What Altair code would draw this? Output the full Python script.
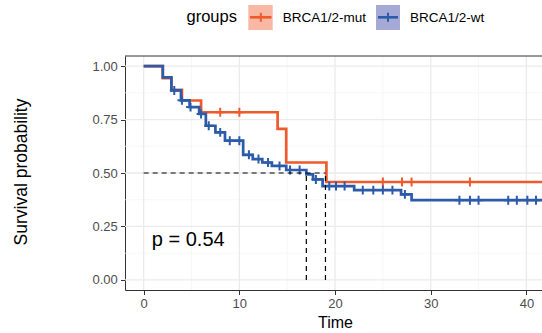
import altair as alt
import pandas as pd

# ---- data -------------------------------------------------------------
groups = ["BRCA1/2-mut", "BRCA1/2-wt"]
line_colors = ["#EE5A2C", "#2B5BA9"]
key_fills = ["#F9B8A4", "#A5A9D6"]

# Kaplan-Meier step points: time of each drop and survival after it
mut_times = [0.0, 2.0, 2.9, 4.0, 6.0, 14.0, 14.9, 19.1]
mut_surv = [1.000, 0.944, 0.889, 0.839, 0.784, 0.706, 0.549, 0.458]
mut_censor = [8.0, 10.0, 25.0, 27.0, 28.0, 34.1]

wt_times = [0.0, 2.0, 2.9, 3.9, 4.8, 5.8, 6.5, 7.5, 8.5, 10.4, 11.4, 12.4,
            13.4, 14.9, 17.0, 17.7, 18.7, 22.0, 26.9, 28.0]
wt_surv = [1.000, 0.947, 0.886, 0.840, 0.808, 0.776, 0.721, 0.690, 0.651,
           0.585, 0.565, 0.549, 0.533, 0.514, 0.494, 0.470, 0.439, 0.420,
           0.400, 0.373]
wt_censor = [3.2, 4.0, 4.9, 6.0, 6.8, 8.0, 9.0, 10.0, 11.0, 12.0, 13.0, 14.2,
             15.3, 16.3, 18.0, 19.4, 20.1, 21.0, 22.9, 24.0, 25.0, 26.0, 27.3,
             33.0, 34.1, 35.0, 38.1, 39.0, 40.1, 41.0]

last_time = 41.63
medians = [19.0, 17.0]
p_label = "p = 0.54"
p_time, p_surv = 0.85, 0.187

x_ticks = [0, 10, 20, 30, 40]
x_minor = [5, 15, 25, 35]
y_ticks = [0.0, 0.25, 0.5, 0.75, 1.0]
y_minor = [0.125, 0.375, 0.625, 0.875]

FONT = "Liberation Sans"


def level_at(times, surv, t):
    level = surv[0]
    for tt, s in zip(times, surv):
        if tt <= t:
            level = s
    return level


curve_rows, censor_rows = [], []
for g, times, surv, cens in [(groups[0], mut_times, mut_surv, mut_censor),
                             (groups[1], wt_times, wt_surv, wt_censor)]:
    for i, (t, s) in enumerate(zip(times, surv)):
        curve_rows.append({"group": g, "time": t, "surv": s, "i": i})
    curve_rows.append({"group": g, "time": last_time, "surv": surv[-1], "i": len(times)})
    for t in cens:
        censor_rows.append({"group": g, "time": t, "surv": level_at(times, surv, t)})

curves = pd.DataFrame(curve_rows)
censors = pd.DataFrame(censor_rows)

xs = alt.Scale(domain=[-1.95, last_time], nice=False, zero=False)
ys = alt.Scale(domain=[-0.047, 1.047], nice=False, zero=False)
color = alt.Scale(domain=groups, range=line_colors)

# one shared axis definition per direction, reused by every layer
x_axis = alt.Axis(values=x_ticks, title="Time", grid=False, titleX=210, titleY=37,
                  titleBaseline="alphabetic", titleAlign="center")
y_axis = alt.Axis(values=y_ticks, format=".2f", title="Survival probability", grid=False,
                  titleX=-99, titleY=115.5, titleAngle=270, titleAlign="center",
                  titleBaseline="alphabetic", labelPadding=3.2, titleFontSize=17.5)


def X(field, **kw):
    return alt.X(field, scale=xs, axis=x_axis, **kw)


def Y(field, **kw):
    return alt.Y(field, scale=ys, axis=y_axis, **kw)


# ---- grid ---------------------------------------------------------------
minor_x = alt.Chart(pd.DataFrame({"v": x_minor})).mark_rule(
    color="#F4F4F4", strokeWidth=0.7).encode(x=X("v:Q"))
minor_y = alt.Chart(pd.DataFrame({"v": y_minor})).mark_rule(
    color="#F4F4F4", strokeWidth=0.7).encode(y=Y("v:Q"))
major_x = alt.Chart(pd.DataFrame({"v": x_ticks})).mark_rule(
    color="#EBEBEB", strokeWidth=1.3).encode(x=X("v:Q"))
major_y = alt.Chart(pd.DataFrame({"v": y_ticks})).mark_rule(
    color="#EBEBEB", strokeWidth=1.3).encode(y=Y("v:Q"))

# ---- survival curves ---------------------------------------------------
lines = alt.Chart(curves).mark_line(interpolate="step-after", strokeWidth=2.7, clip=True).encode(
    x=X("time:Q"),
    y=Y("surv:Q"),
    color=alt.Color("group:N", scale=color, legend=None),
    order=alt.Order("i:Q"),
    detail="group:N",
)

plus_path = "M-1,0L1,0M0,-1L0,1"
ticks = alt.Chart(censors).mark_point(shape=plus_path, filled=False, size=80,
                                      strokeWidth=2, opacity=1).encode(
    x=X("time:Q"),
    y=Y("surv:Q"),
    color=alt.Color("group:N", scale=color, legend=None),
)

# ---- median survival guides ---------------------------------------------
med_h = alt.Chart(pd.DataFrame({"x0": [0.0], "x1": [max(medians)], "y": [0.5]})).mark_rule(
    color="black", strokeDash=[5, 4], strokeWidth=1.2).encode(
    x=X("x0:Q"), x2="x1:Q", y=Y("y:Q"))
med_v = alt.Chart(pd.DataFrame({"x": medians, "y0": [0.0, 0.0], "y1": [0.5, 0.5]})).mark_rule(
    color="black", strokeDash=[5, 4], strokeWidth=1.2).encode(
    x=X("x:Q"), y=Y("y0:Q"), y2="y1:Q")

pval = alt.Chart(pd.DataFrame({"t": [p_time], "s": [p_surv], "label": [p_label]})).mark_text(
    align="left", baseline="middle", fontSize=20, font=FONT, color="black").encode(
    x=X("t:Q"), y=Y("s:Q"), text="label:N")

# panel top border
top_border = alt.Chart(pd.DataFrame({"a": [0]})).mark_rule(color="#333333", strokeWidth=1).encode(
    y=alt.value(0), x=alt.value(0), x2=alt.value(417))

# ---- legend (top) -------------------------------------------------------
key = pd.DataFrame({
    "group": groups,
    "bx0": [123.3, 251.0], "bx1": [147.7, 275.0],
    "hx0": [125.0, 253.0], "hx1": [146.5, 273.0], "cx": [135.8, 263.0],
    "lx": [157.7, 285.0],
    "fill": key_fills, "stroke": line_colors,
})
key_box = alt.Chart(key).mark_rect().encode(
    x=alt.X("bx0:Q", scale=None), x2="bx1:Q",
    y=alt.value(-51), y2=alt.value(-26),
    fill=alt.Fill("fill:N", scale=None))
key_h = alt.Chart(key).mark_rule(strokeWidth=2.6).encode(
    x=alt.X("hx0:Q", scale=None), x2="hx1:Q", y=alt.value(-38.7),
    color=alt.Color("stroke:N", scale=None))
key_v = alt.Chart(key).mark_rule(strokeWidth=2).encode(
    x=alt.X("cx:Q", scale=None), y=alt.value(-43.2), y2=alt.value(-34.2),
    color=alt.Color("stroke:N", scale=None))
key_lab = alt.Chart(key).mark_text(align="left", baseline="middle", fontSize=13.5,
                                   font=FONT, color="black").encode(
    x=alt.X("lx:Q", scale=None), y=alt.value(-38.5), text="group:N")
key_title = alt.Chart(pd.DataFrame({"t": ["groups"]})).mark_text(
    align="left", baseline="middle", fontSize=16.5, font=FONT, color="black").encode(
    x=alt.value(61.5), y=alt.value(-39.5), text="t:N")

chart = alt.layer(
    minor_x, minor_y, major_x, major_y, lines, ticks, med_h, med_v, pval, top_border,
    key_box, key_h, key_v, key_lab, key_title,
).properties(
    width=417, height=234,
    autosize=alt.AutoSizeParams(type="none"),
    padding={"left": 125, "top": 56, "right": 0, "bottom": 43},
).configure_view(stroke=None).configure_axis(
    labelFont=FONT, titleFont=FONT, labelFontSize=13, labelColor="#4D4D4D",
    titleFontSize=16, titleFontWeight="normal", titleColor="black",
    tickColor="#333333", tickSize=4.5, tickWidth=1, domainColor="#333333", domainWidth=1,
    labelPadding=3,
)

chart.save("out.html", embed_options={"renderer": "svg", "actions": False})
